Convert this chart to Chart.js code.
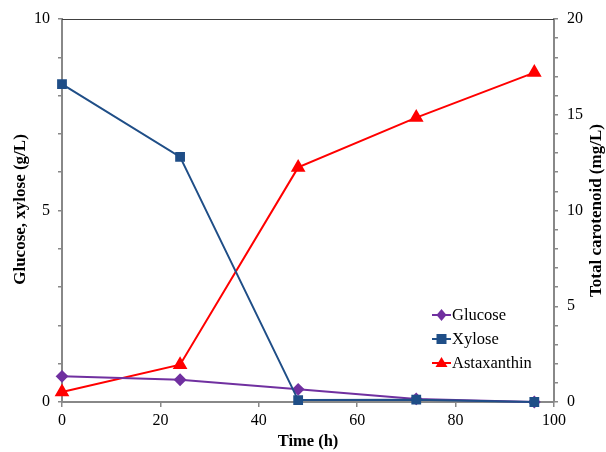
<!DOCTYPE html>
<html><head><meta charset="utf-8">
<script src="https://cdn.jsdelivr.net/npm/chart.js@4.4.1/dist/chart.umd.min.js"></script>
<style>html,body{margin:0;padding:0;background:#fff}#wrap{width:606px;height:452px}</style>
</head><body><div id="wrap"><canvas id="c" width="606" height="452"></canvas></div>
<script>
const times = [0, 24, 48, 72, 96];
const glucose = [0.67, 0.58, 0.33, 0.08, 0.0];
const xylose = [8.3, 6.4, 0.05, 0.06, 0.0];
const astaxanthin = [0.52, 1.95, 12.25, 14.85, 17.2];
const seriesNames = ['Glucose', 'Xylose', 'Astaxanthin'];
const leftMajor = [0, 5, 10];
const rightMajor = [0, 5, 10, 15, 20];
const xMajor = [0, 20, 40, 60, 80, 100];
const leftTitle = 'Glucose, xylose (g/L)';
const rightTitle = 'Total carotenoid (mg/L)';

const FONT = '"Liberation Serif", "Times New Roman", serif';
const toXY = (arr) => arr.map((v, i) => ({x: times[i], y: v}));

const legendPlugin = {
  id: 'customLegend',
  afterDraw(chart) {
    const ctx = chart.ctx;
    const items = chart.data.datasets;
    const x0 = 432, y0 = 315, dy = 24;
    ctx.save();
    items.forEach((ds, i) => {
      const y = y0 + i * dy;
      ctx.strokeStyle = ds.borderColor;
      ctx.lineWidth = 2;
      ctx.beginPath(); ctx.moveTo(x0, y); ctx.lineTo(x0 + 19, y); ctx.stroke();
      ctx.fillStyle = ds.backgroundColor;
      const cx = x0 + 9.5, r = 5;
      ctx.beginPath();
      if (ds.pointStyle === 'rectRot') {
        ctx.moveTo(cx, y - r - 1); ctx.lineTo(cx + r, y); ctx.lineTo(cx, y + r + 1); ctx.lineTo(cx - r, y);
      } else if (ds.pointStyle === 'rect') {
        ctx.rect(cx - 5, y - 5, 10, 10);
      } else {
        ctx.moveTo(cx, y - 6); ctx.lineTo(cx + 6, y + 4); ctx.lineTo(cx - 6, y + 4);
      }
      ctx.closePath(); ctx.fill();
      ctx.fillStyle = '#000';
      ctx.font = '16.5px ' + FONT;
      ctx.textBaseline = 'middle';
      ctx.textAlign = 'left';
      ctx.fillText(ds.label, x0 + 20, y + 1);
    });
    ctx.restore();
  }
};

const framePlugin = {
  id: 'frame',
  afterDraw(chart) {
    const a = chart.chartArea, ctx = chart.ctx;
    ctx.save();
    ctx.strokeStyle = '#404040';
    ctx.lineWidth = 1;
    ctx.beginPath(); ctx.moveTo(a.left, a.top + 0.5); ctx.lineTo(a.right, a.top + 0.5); ctx.stroke();
    // axis titles (both read bottom-to-top)
    const cy = (a.top + a.bottom) / 2;
    ctx.fillStyle = '#000';
    ctx.font = 'bold 17px ' + FONT;
    ctx.textAlign = 'center';
    ctx.textBaseline = 'middle';
    ctx.save(); ctx.translate(21, cy - 1); ctx.rotate(-Math.PI / 2); ctx.fillText(leftTitle, 0, 0); ctx.restore();
    ctx.save(); ctx.translate(597, cy); ctx.rotate(-Math.PI / 2); ctx.fillText(rightTitle, 0, 0); ctx.restore();
    ctx.restore();
  }
};

new Chart(document.getElementById('c'), {
  type: 'line',
  data: {
    datasets: [
      {label: seriesNames[0], data: toXY(glucose), yAxisID: 'y', borderColor: '#7030A0', backgroundColor: '#7030A0',
       pointStyle: 'rectRot', pointRadius: 5, borderWidth: 2, tension: 0, order: 2},
      {label: seriesNames[1], data: toXY(xylose), yAxisID: 'y', borderColor: '#1F4E87', backgroundColor: '#1F4E87',
       pointStyle: 'rect', pointRadius: 5.5, borderWidth: 2, tension: 0, order: 1},
      {label: seriesNames[2], data: toXY(astaxanthin), yAxisID: 'y2', borderColor: '#FF0000', backgroundColor: '#FF0000',
       pointStyle: 'triangle', pointRadius: 6.5, borderWidth: 2, tension: 0, order: 3}
    ]
  },
  options: {
    responsive: false,
    animation: false,
    clip: false,
    layout: {padding: {top: 19, left: 0, right: 0, bottom: 0}},
    plugins: {legend: {display: false}, tooltip: {enabled: false}},
    scales: {
      x: {
        type: 'linear', min: 0, max: 100,
        ticks: {stepSize: 20, autoSkip: false, maxRotation: 0, color: '#000', font: {family: FONT, size: 16}, padding: 4,
                callback: (v) => xMajor.includes(v) ? String(v) : ''},
        grid: {drawOnChartArea: false, drawTicks: true, tickLength: 5, color: '#888', lineWidth: 1.5},
        border: {color: '#888', width: 2},
        title: {display: true, text: 'Time (h)', color: '#000', font: {family: FONT, size: 16.5, weight: 'bold'}, padding: {top: 0, bottom: 0}},
        afterFit(s) { s.height = 50; }
      },
      y: {
        type: 'linear', position: 'left', min: 0, max: 10,
        ticks: {stepSize: 1, autoSkip: false, color: '#000', font: {family: FONT, size: 16}, padding: 8,
                callback: (v) => leftMajor.includes(v) ? String(v) : ''},
        grid: {drawOnChartArea: false, drawTicks: true, tickLength: 4, color: '#888', lineWidth: 1.5},
        border: {color: '#888', width: 2},
        afterFit(s) { s.width = 62; }
      },
      y2: {
        type: 'linear', position: 'right', min: 0, max: 20,
        ticks: {stepSize: 1, autoSkip: false, color: '#000', font: {family: FONT, size: 16}, padding: 9,
                callback: (v) => rightMajor.includes(v) ? String(v) : ''},
        grid: {drawOnChartArea: false, drawTicks: true, tickLength: 4, color: '#888', lineWidth: 1.5},
        border: {color: '#888', width: 2},
        afterFit(s) { s.width = 52; }
      }
    }
  },
  plugins: [legendPlugin, framePlugin]
});
</script></body></html>
